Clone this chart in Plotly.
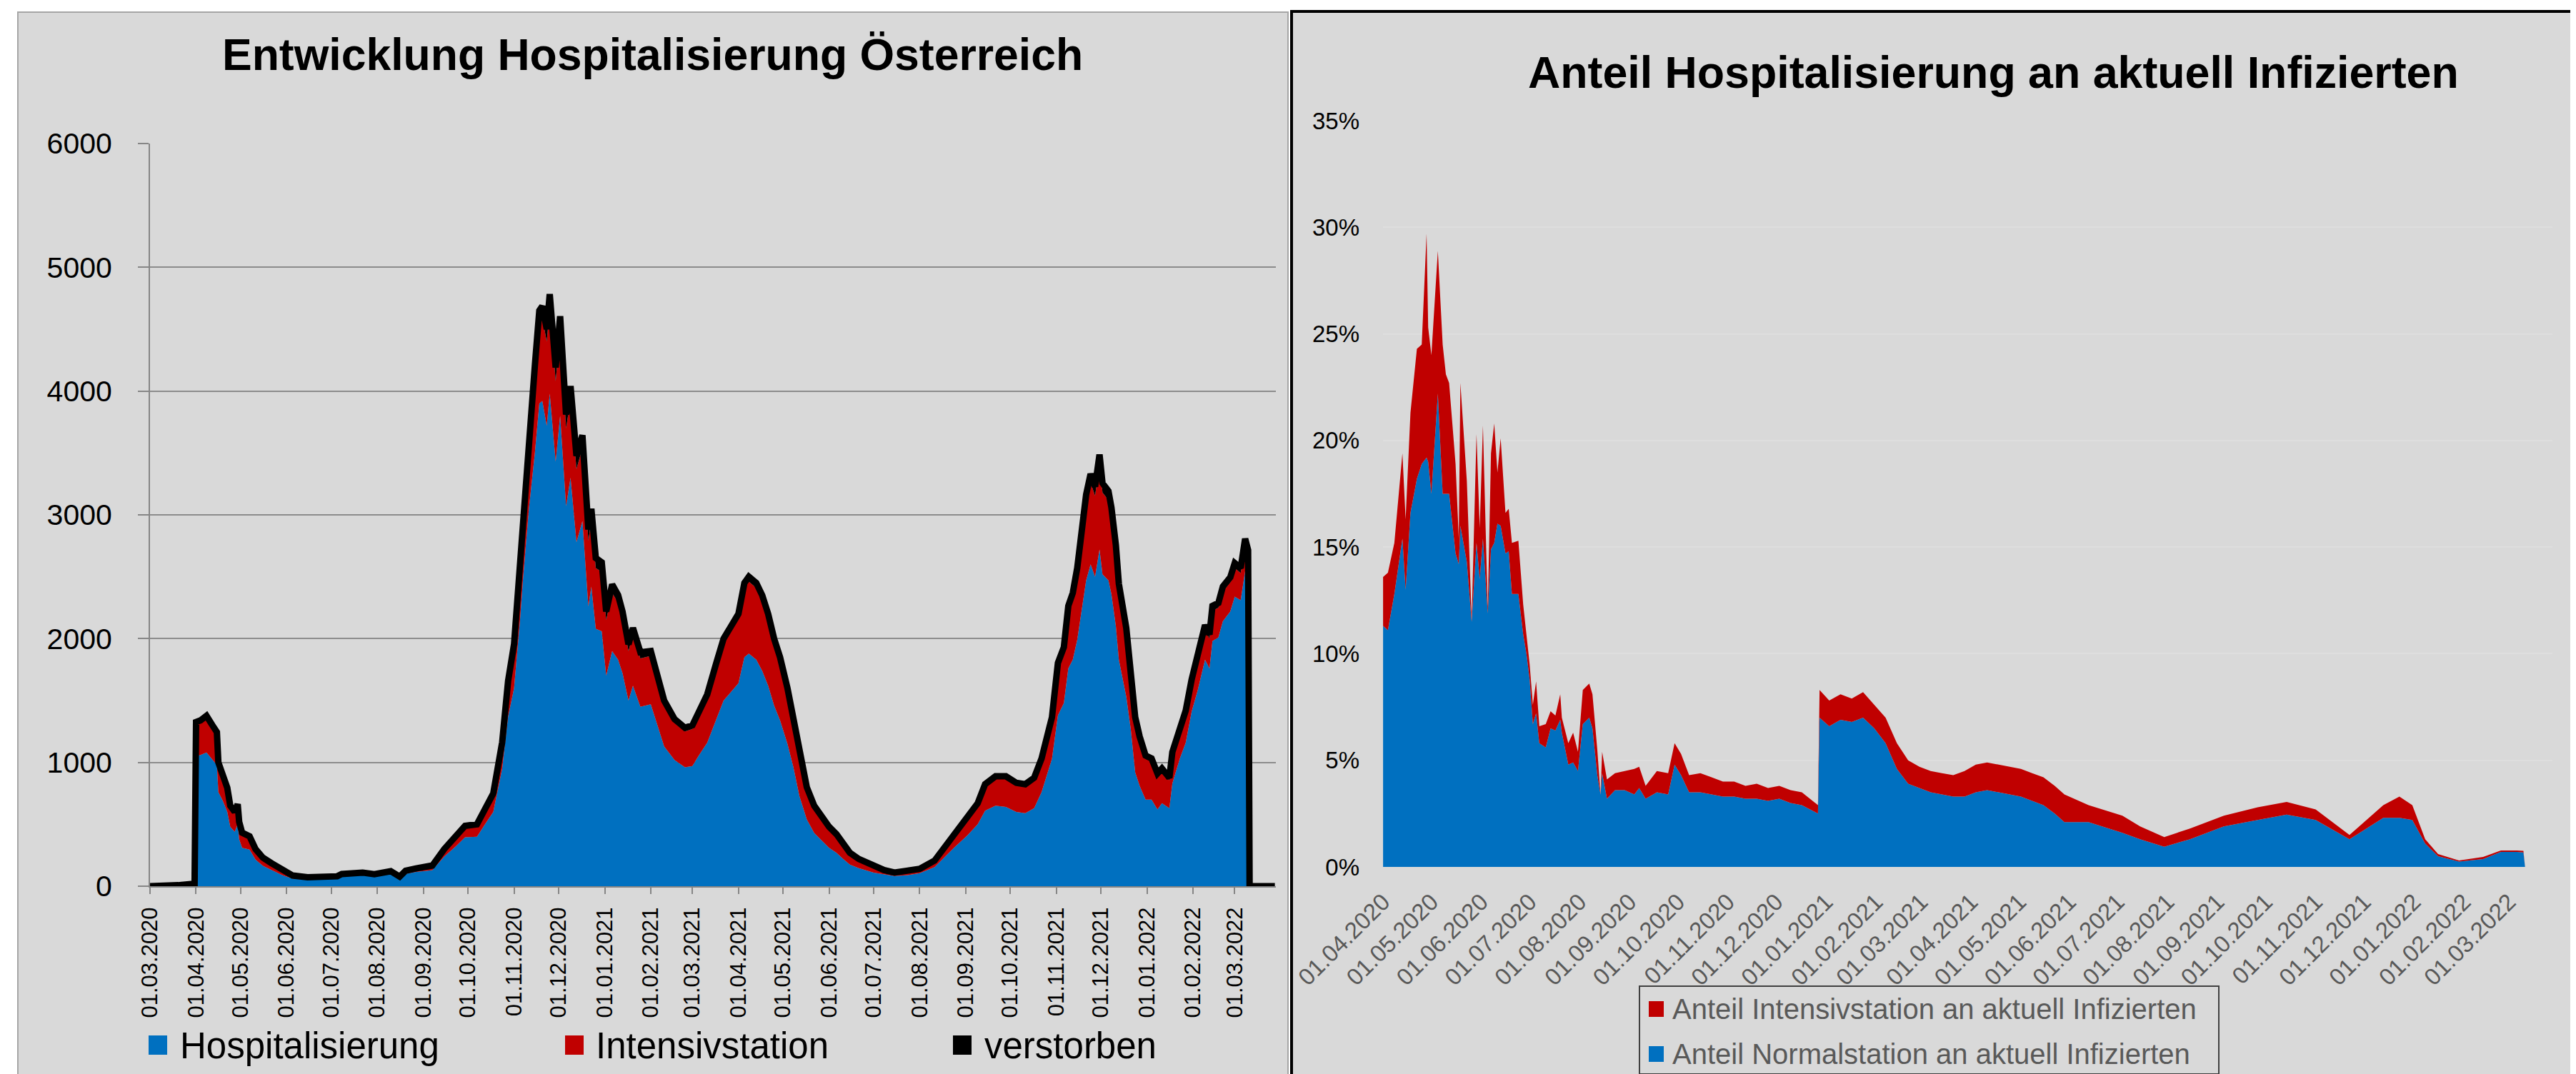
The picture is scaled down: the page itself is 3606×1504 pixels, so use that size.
import plotly.graph_objects as go

W, H = 3606, 1504

# ---------------- left chart data (persons) ----------------
dates_left = [
    "2020-03-01", "2020-03-10", "2020-03-20", "2020-03-31", "2020-04-01", "2020-04-04", "2020-04-08",
    "2020-04-12", "2020-04-15", "2020-04-16", "2020-04-19", "2020-04-22", "2020-04-24", "2020-04-27",
    "2020-04-29", "2020-04-30", "2020-05-02", "2020-05-07", "2020-05-11", "2020-05-16", "2020-05-22",
    "2020-05-29", "2020-06-05", "2020-06-15", "2020-06-25", "2020-07-05", "2020-07-08", "2020-07-15",
    "2020-07-22", "2020-07-30", "2020-08-05", "2020-08-10", "2020-08-16", "2020-08-20", "2020-08-27",
    "2020-09-07", "2020-09-15", "2020-09-23", "2020-09-29", "2020-10-07", "2020-10-13", "2020-10-18",
    "2020-10-24", "2020-10-28", "2020-11-01", "2020-11-05", "2020-11-07", "2020-11-11", "2020-11-15",
    "2020-11-18", "2020-11-20", "2020-11-23", "2020-11-25", "2020-11-29", "2020-12-02", "2020-12-06",
    "2020-12-09", "2020-12-13", "2020-12-17", "2020-12-21", "2020-12-23", "2020-12-26", "2020-12-30",
    "2021-01-02", "2021-01-06", "2021-01-10", "2021-01-13", "2021-01-17", "2021-01-20", "2021-01-25",
    "2021-02-01", "2021-02-10", "2021-02-17", "2021-02-24", "2021-03-01", "2021-03-05", "2021-03-11",
    "2021-03-17", "2021-03-22", "2021-04-01", "2021-04-05", "2021-04-08", "2021-04-13", "2021-04-17",
    "2021-04-21", "2021-04-25", "2021-04-29", "2021-05-04", "2021-05-08", "2021-05-12", "2021-05-17",
    "2021-05-22", "2021-06-01", "2021-06-06", "2021-06-10", "2021-06-15", "2021-06-21", "2021-07-01",
    "2021-07-08", "2021-07-15", "2021-07-24", "2021-08-01", "2021-08-11", "2021-08-24", "2021-09-02",
    "2021-09-09", "2021-09-14", "2021-09-21", "2021-09-28", "2021-10-05", "2021-10-11", "2021-10-17",
    "2021-10-22", "2021-10-29", "2021-11-02", "2021-11-06", "2021-11-09", "2021-11-12", "2021-11-15",
    "2021-11-18", "2021-11-21", "2021-11-24", "2021-11-27", "2021-11-30", "2021-12-02", "2021-12-06",
    "2021-12-08", "2021-12-11", "2021-12-13", "2021-12-18", "2021-12-21", "2021-12-24", "2021-12-27",
    "2021-12-31", "2022-01-04", "2022-01-08", "2022-01-11", "2022-01-16", "2022-01-18", "2022-01-23",
    "2022-01-27", "2022-01-31", "2022-02-04", "2022-02-09", "2022-02-12", "2022-02-14", "2022-02-18",
    "2022-02-21", "2022-02-26", "2022-03-01", "2022-03-05", "2022-03-08", "2022-03-10", "2022-03-11",
    "2022-03-28",
]
normalstation = [
    0, 0, 0, 0, 1050, 1060, 1080,
    1020, 980, 760, 690, 600, 480, 440,
    500, 380, 310, 295, 215, 165, 130,
    90, 60, 52, 55, 63, 80, 82,
    90, 78, 90, 98, 58, 100, 115,
    130, 240, 325, 395, 400, 510, 600,
    950, 1370, 1600, 2150, 2480, 3050, 3500,
    3900, 3920, 3720, 3980, 3430, 3800, 3070,
    3300, 2780, 2950, 2260, 2420, 2080, 2060,
    1700, 1900, 1830, 1720, 1500, 1620, 1450,
    1470, 1130, 1020, 960, 970, 1050, 1160,
    1350, 1500, 1640, 1850, 1880, 1830, 1740,
    1620, 1460, 1340, 1150, 960, 730, 540,
    430, 310, 270, 225, 175, 145, 110,
    95, 82, 90, 105, 155, 310, 410,
    500, 610, 650, 640, 600, 590, 630,
    760, 1030, 1380, 1480, 1760, 1830, 1990,
    2240, 2470, 2600, 2500, 2720, 2520, 2470,
    2360, 2100, 1830, 1530, 1270, 920, 810,
    700, 700, 620, 670, 630, 830, 1030,
    1160, 1410, 1580, 1830, 1760, 1980, 2010,
    2140, 2220, 2340, 2310, 2545, 2460, 0,
    0,
]
intensivstation = [
    0, 0, 0, 0, 250, 260, 267,
    255, 245, 225, 195, 180, 160, 150,
    153, 132, 115, 100, 80, 60, 50,
    37, 24, 18, 13, 15, 16, 16,
    18, 17, 18, 21, 18, 23, 27,
    34, 55, 70, 82, 90, 110, 130,
    190, 260, 310, 400, 450, 550, 620,
    660, 670, 680, 700, 650, 690, 630,
    630, 590, 590, 530, 540, 490, 480,
    450, 470, 460, 440, 400, 410, 390,
    390, 340, 300, 290, 300, 320, 360,
    420, 470, 520, 560, 580, 580, 570,
    545, 510, 480, 420, 370, 300, 245,
    210, 160, 140, 118, 90, 70, 47,
    33, 26, 28, 33, 50, 95, 125,
    160, 200, 220, 230, 220, 220, 230,
    250, 310, 390, 410, 460, 490, 525,
    580, 630, 660, 655, 690, 660, 650,
    630, 590, 550, 500, 460, 410, 370,
    330, 310, 270, 260, 225, 230, 230,
    230, 230, 235, 240, 240, 245, 240,
    240, 235, 230, 220, 220, 215, 0,
    0,
]
verstorben = [
    0, 1, 8, 20, 26, 20, 30,
    25, 20, 15, 15, 15, 11, 10,
    10, 8, 7, 8, 5, 5, 4,
    3, 2, 2, 2, 2, 2, 2,
    2, 2, 2, 2, 1, 2, 2,
    3, 5, 8, 10, 10, 14, 20,
    23, 30, 46, 67, 67, 77, 87,
    91, 96, 101, 104, 110, 115, 110,
    110, 106, 103, 92, 89, 81, 77,
    69, 68, 62, 59, 54, 56, 50,
    40, 30, 30, 30, 30, 30, 30,
    30, 30, 40, 40, 40, 40, 40,
    35, 30, 30, 30, 20, 20, 15,
    10, 10, 10, 7, 5, 5, 3,
    2, 2, 2, 2, 2, 4, 6,
    10, 14, 18, 18, 15, 14, 16,
    22, 26, 34, 41, 45, 49, 56,
    62, 64, 71, 73, 77, 76, 73,
    70, 65, 64, 56, 45, 36, 30,
    25, 22, 21, 21, 21, 24, 25,
    28, 31, 35, 39, 34, 40, 38,
    41, 41, 41, 41, 42, 40, 0,
    0,
]

# ---------------- right chart data (percent of currently infected) ----------------
dates_right = [
    "2020-04-01", "2020-04-04", "2020-04-08", "2020-04-13", "2020-04-15", "2020-04-18", "2020-04-22",
    "2020-04-25", "2020-04-28", "2020-04-29", "2020-05-01", "2020-05-05", "2020-05-08", "2020-05-10",
    "2020-05-12", "2020-05-16", "2020-05-18", "2020-05-19", "2020-05-23", "2020-05-26", "2020-05-29",
    "2020-05-31", "2020-06-02", "2020-06-05", "2020-06-07", "2020-06-09", "2020-06-11", "2020-06-13",
    "2020-06-16", "2020-06-18", "2020-06-20", "2020-06-24", "2020-06-27", "2020-06-29", "2020-07-01",
    "2020-07-03", "2020-07-05", "2020-07-07", "2020-07-11", "2020-07-14", "2020-07-17", "2020-07-20",
    "2020-07-21", "2020-07-25", "2020-07-28", "2020-07-31", "2020-08-03", "2020-08-07", "2020-08-09",
    "2020-08-12", "2020-08-14", "2020-08-15", "2020-08-18", "2020-08-23", "2020-08-29", "2020-09-04",
    "2020-09-07", "2020-09-11", "2020-09-18", "2020-09-25", "2020-09-29", "2020-10-03", "2020-10-08",
    "2020-10-15", "2020-10-22", "2020-10-29", "2020-11-05", "2020-11-12", "2020-11-19", "2020-11-26",
    "2020-12-03", "2020-12-10", "2020-12-17", "2020-12-24", "2020-12-27", "2020-12-28", "2021-01-03",
    "2021-01-10", "2021-01-17", "2021-01-24", "2021-01-31", "2021-02-07", "2021-02-14", "2021-02-21",
    "2021-02-28", "2021-03-07", "2021-03-14", "2021-03-21", "2021-03-28", "2021-04-04", "2021-04-11",
    "2021-04-18", "2021-04-25", "2021-05-02", "2021-05-09", "2021-05-16", "2021-05-23", "2021-05-29",
    "2021-06-13", "2021-07-04", "2021-07-15", "2021-07-30", "2021-08-15", "2021-09-05", "2021-09-26",
    "2021-10-14", "2021-11-01", "2021-11-22", "2021-12-13", "2021-12-23", "2021-12-31", "2022-01-08",
    "2022-01-16", "2022-01-29", "2022-02-13", "2022-02-24", "2022-03-06", "2022-03-10", "2022-03-11",
]
anteil_normal = [
    11.3, 11.1, 12.8, 15.4, 13.0, 16.6, 18.2,
    18.9, 19.2, 19.0, 17.5, 22.2, 17.5, 17.5,
    17.5, 14.7, 14.2, 16.0, 14.3, 11.5, 15.2,
    13.5, 15.4, 11.9, 14.9, 15.2, 16.1, 16.0,
    14.7, 14.8, 12.8, 12.8, 10.9, 10.0, 8.8,
    6.7, 7.2, 5.8, 5.6, 6.5, 6.4, 6.9,
    6.3, 4.8, 4.9, 4.5, 6.7, 7.0, 6.5,
    4.3, 3.4, 4.4, 3.2, 3.6, 3.6, 3.4,
    3.7, 3.2, 3.5, 3.4, 4.8, 4.3, 3.5,
    3.5, 3.4, 3.3, 3.3, 3.2, 3.2, 3.1,
    3.2, 3.0, 2.9, 2.6, 2.5, 7.0, 6.6,
    6.9, 6.8, 7.0, 6.5, 5.8, 4.6, 3.9,
    3.7, 3.5, 3.4, 3.3, 3.3, 3.5, 3.6,
    3.5, 3.4, 3.3, 3.1, 2.9, 2.5, 2.1,
    2.1, 1.6, 1.3, 0.95, 1.3, 1.9, 2.2,
    2.45, 2.2, 1.3, 2.3, 2.3, 2.2, 1.1,
    0.5, 0.25, 0.37, 0.7, 0.7, 0.68, 0.0,
]
anteil_intensiv = [
    2.3, 2.7, 2.4, 4.0, 3.3, 4.7, 6.1,
    5.6, 10.5, 6.3, 6.5, 6.7, 7.0, 5.6,
    5.2, 4.2, 1.2, 6.7, 3.8, 0.1, 5.1,
    2.4, 5.3, 0.2, 4.5, 5.6, 2.4, 4.1,
    1.9, 2.0, 2.4, 2.5, 1.4, 0.8, 0.7,
    0.9, 1.5, 0.8, 1.1, 0.8, 0.7, 1.2,
    0.7, 1.0, 1.4, 0.9, 1.6, 1.6, 1.6,
    1.2, 0.0, 1.0, 0.9, 0.8, 0.9, 1.2,
    1.0, 0.6, 1.0, 1.0, 1.0, 1.0, 0.8,
    0.9, 0.8, 0.7, 0.7, 0.6, 0.7, 0.6,
    0.6, 0.6, 0.6, 0.5, 0.4, 1.3, 1.2,
    1.2, 1.1, 1.2, 1.1, 1.2, 1.2, 1.1,
    1.0, 1.0, 1.0, 1.0, 1.2, 1.3, 1.3,
    1.3, 1.3, 1.3, 1.3, 1.3, 1.3, 1.3,
    0.8, 0.8, 0.6, 0.45, 0.5, 0.5, 0.6,
    0.6, 0.5, 0.2, 0.6, 1.0, 0.7, 0.2,
    0.1, 0.05, 0.1, 0.07, 0.07, 0.07, 0.0,
]

# ---------------- text ----------------
title_left = "Entwicklung Hospitalisierung Österreich"
title_right = "Anteil Hospitalisierung an aktuell Infizierten"
legend_left = ["Hospitalisierung", "Intensivstation", "verstorben"]
legend_right = ["Anteil Intensivstation an aktuell Infizierten", "Anteil Normalstation an aktuell Infizierten"]

BLUE, RED, BLACK = "#0070C0", "#C00000", "#000000"
FONT = "Liberation Sans, Arial, sans-serif"


def px(x):
    return x / W


def py(y):
    return 1 - y / H


fig = go.Figure()

fig.add_trace(go.Scatter(x=dates_left, y=normalstation, stackgroup="left", mode="lines",
                         line=dict(width=0, color=BLUE), fillcolor=BLUE, name=legend_left[0],
                         xaxis="x", yaxis="y"))
fig.add_trace(go.Scatter(x=dates_left, y=intensivstation, stackgroup="left", mode="lines",
                         line=dict(width=0, color=RED), fillcolor=RED, name=legend_left[1],
                         xaxis="x", yaxis="y"))
fig.add_trace(go.Scatter(x=dates_left, y=verstorben, stackgroup="left", mode="lines",
                         line=dict(width=9, color=BLACK), fillcolor=BLACK, name=legend_left[2],
                         xaxis="x", yaxis="y"))

fig.add_trace(go.Scatter(x=dates_right, y=anteil_normal, stackgroup="right", mode="lines",
                         line=dict(width=0, color=BLUE), fillcolor=BLUE, name=legend_right[1],
                         xaxis="x2", yaxis="y2"))
fig.add_trace(go.Scatter(x=dates_right, y=anteil_intensiv, stackgroup="right", mode="lines",
                         line=dict(width=0, color=RED), fillcolor=RED, name=legend_right[0],
                         xaxis="x2", yaxis="y2"))

shapes = [
    # panel backgrounds
    dict(type="rect", xref="paper", yref="paper", x0=px(17), x1=px(1795), y0=py(1530), y1=py(9),
         fillcolor="#d9d9d9", line=dict(color="#a6a6a6", width=2), layer="below"),
    dict(type="rect", xref="paper", yref="paper", x0=px(1800), x1=px(3592), y0=py(1530), y1=py(8),
         fillcolor="#d9d9d9", line=dict(color="#000000", width=4), layer="below"),
    # right legend box
    dict(type="rect", xref="paper", yref="paper", x0=px(2287), x1=px(3098), y0=py(1496), y1=py(1373),
         fillcolor="rgba(0,0,0,0)", line=dict(color="#404040", width=2)),
]
annotations = [
    dict(text="<b>" + title_left + "</b>", x=px(905), y=py(68), xref="paper", yref="paper",
         showarrow=False, xanchor="center", yanchor="middle",
         font=dict(family=FONT, size=62.5, color="#000000")),
    dict(text="<b>" + title_right + "</b>", x=px(2782), y=py(93), xref="paper", yref="paper",
         showarrow=False, xanchor="center", yanchor="middle",
         font=dict(family=FONT, size=62.7, color="#000000")),
]

# left legend (swatch + text)
left_items = [(200, 242, BLUE), (783, 824, RED), (1326, 1368, BLACK)]
for (sx, tx, col), label in zip(left_items, legend_left):
    shapes.append(dict(type="rect", xref="paper", yref="paper", x0=px(sx), x1=px(sx + 26),
                       y0=py(1469), y1=py(1442), fillcolor=col, line=dict(width=0)))
    annotations.append(dict(text=label, x=px(tx), y=py(1456), xref="paper", yref="paper",
                            showarrow=False, xanchor="left", yanchor="middle",
                            font=dict(family=FONT, size=51, color="#000000")))

# right legend
right_items = [(1394, 1405, RED), (1457, 1468, BLUE)]
for (sy, ty, col), label in zip(right_items, legend_right):
    shapes.append(dict(type="rect", xref="paper", yref="paper", x0=px(2300), x1=px(2321),
                       y0=py(sy + 22), y1=py(sy), fillcolor=col, line=dict(width=0)))
    annotations.append(dict(text=label, x=px(2331), y=py(ty), xref="paper", yref="paper",
                            showarrow=False, xanchor="left", yanchor="middle",
                            font=dict(family=FONT, size=40, color="#595959")))

fig.update_layout(
    width=W, height=H, autosize=False,
    margin=dict(l=0, r=0, t=0, b=0, pad=0, autoexpand=False),
    paper_bgcolor="#ffffff", plot_bgcolor="#ffffff",
    showlegend=False,
    font=dict(family=FONT, color="#000000"),
    shapes=shapes, annotations=annotations,
    xaxis=dict(domain=[px(202), px(1778)], type="date", automargin=False,
               range=["2020-03-01", "2022-03-28 16:00"],
               tick0="2020-03-01", dtick="M1", tickformat="%d.%m.%Y", tickangle=-90,
               ticks="outside", ticklen=9, tickcolor="#868686", tickwidth=2,
               showline=True, linecolor="#868686", linewidth=2, showgrid=False,
               tickfont=dict(size=31, color="#000000"), ticklabelstandoff=6, anchor="y"),
    yaxis=dict(domain=[py(1233), py(193)], range=[0, 6000], dtick=1000, automargin=False,
               ticks="outside", ticklen=15, tickcolor="#868686", tickwidth=2,
               showline=True, linecolor="#868686", linewidth=2,
               showgrid=True, gridcolor="#8c8c8c", gridwidth=2, zeroline=False,
               tickfont=dict(size=41, color="#000000"), ticklabelstandoff=28, anchor="x"),
    xaxis2=dict(domain=[px(1928), px(3565)], type="date", automargin=False,
                range=["2020-03-31 23:00", "2022-03-28"],
                tick0="2020-04-01", dtick="M1", tickformat="%d.%m.%Y", tickangle=-45,
                ticks="", showline=False, showgrid=False,
                tickfont=dict(size=33, color="#595959"), ticklabelstandoff=22, anchor="y2"),
    yaxis2=dict(domain=[py(1206), py(161)], range=[0, 35], dtick=5, ticksuffix="%",
                automargin=False,
                ticks="", showline=False, showgrid=True, gridcolor="#dedede", gridwidth=2,
                zeroline=False, tickfont=dict(size=33, color="#000000"), ticklabelstandoff=32,
                anchor="x2"),
)

fig.write_html("out.html")
